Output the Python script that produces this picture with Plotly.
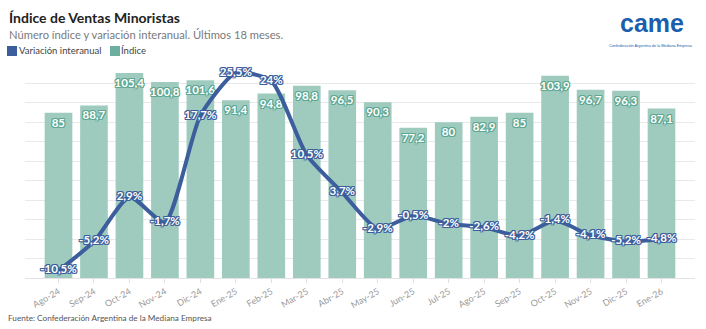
import plotly.graph_objects as go

months = ["Ago-24", "Sep-24", "Oct-24", "Nov-24", "Dic-24", "Ene-25", "Feb-25", "Mar-25", "Abr-25",
          "May-25", "Jun-25", "Jul-25", "Ago-25", "Sep-25", "Oct-25", "Nov-25", "Dic-25", "Ene-26"]
indice = [85, 88.7, 105.4, 100.8, 101.6, 91.4, 94.8, 98.8, 96.5, 90.3, 77.2, 80, 82.9, 85, 103.9, 96.7, 96.3, 87.1]
variacion = [-10.5, -5.2, 2.9, -1.7, 17.7, 25.5, 24, 10.5, 3.7, -2.9, -0.5, -2, -2.6, -4.2, -1.4, -4.1, -5.2, -4.8]

title_text = "Índice de Ventas Minoristas"
subtitle_text = "Número índice y variación interanual. Últimos 18 meses."
legend_names = ["Variación interanual", "Índice"]
source_text = "Fuente: Confederación Argentina de la Mediana Empresa"
logo_sub = "Confederación Argentina de la Mediana Empresa"

W, H = 706, 329
ML, MR, MT, MB = 25, 11, 64, 51
PW, PH = W - ML - MR, H - MT - MB

def px(x):
    return (x - ML) / PW

def py(y):
    return 1 - (y - MT) / PH

BLUE = "#3C5E9C"
BAR = "#9FCBBF"
BAR_DARK = "#5EA893"
FONT = "Lato"

def outline(c, r=1):
    offs = [(-r, -r), (r, -r), (-r, r), (r, r), (0, -r), (0, r), (-r, 0), (r, 0)]
    return ", ".join(f"{a}px {b}px 0 {c}" for a, b in offs)

def fmt(v):
    return f"{v:g}".replace(".", ",")

fig = go.Figure()
fig.add_trace(go.Bar(
    x=months, y=indice, name=legend_names[1], marker=dict(color=BAR, line=dict(width=0)),
    text=[fmt(v) for v in indice], textposition="inside", insidetextanchor="end",
    constraintext="none", cliponaxis=False, textangle=0,
    textfont=dict(family=FONT, size=11.5, color="white", weight="bold", shadow=outline(BAR_DARK)),
    showlegend=False, hoverinfo="skip",
))
fig.add_trace(go.Scatter(
    x=months, y=variacion, yaxis="y2", name=legend_names[0], mode="lines+text",
    line=dict(color=BLUE, width=4, shape="spline", smoothing=0.6),
    text=[fmt(v) + "%" for v in variacion], textposition="middle center", cliponaxis=False,
    textfont=dict(family=FONT, size=11.5, color="white", weight="bold", shadow=outline(BLUE)),
    showlegend=False, hoverinfo="skip",
))

annotations = [
    dict(x=px(7), y=py(17), xref="paper", yref="paper", xanchor="left", yanchor="middle",
         text=f"<b>{title_text}</b>", showarrow=False, font=dict(family=FONT, size=14, color="#222222")),
    dict(x=px(7), y=py(35), xref="paper", yref="paper", xanchor="left", yanchor="middle",
         text=subtitle_text, showarrow=False, font=dict(family=FONT, size=11.2, color="#7a7a7a")),
    dict(x=px(6), y=py(318), xref="paper", yref="paper", xanchor="left", yanchor="middle",
         text=source_text, showarrow=False, font=dict(family=FONT, size=8.2, color="#555555")),
    dict(x=px(17), y=py(51), xref="paper", yref="paper", xanchor="left", yanchor="middle",
         text=legend_names[0], showarrow=False, font=dict(family=FONT, size=9.5, color="#444444")),
    dict(x=px(119), y=py(51), xref="paper", yref="paper", xanchor="left", yanchor="middle",
         text=legend_names[1], showarrow=False, font=dict(family=FONT, size=9.5, color="#444444")),
    dict(x=px(652), y=py(23), xref="paper", yref="paper", xanchor="center", yanchor="middle",
         text="<b>came</b>", showarrow=False, font=dict(family="Liberation Sans", size=25, color="#1B5EAD")),
    dict(x=px(651), y=py(46), xref="paper", yref="paper", xanchor="center", yanchor="middle",
         text=logo_sub, showarrow=False, font=dict(family="Liberation Sans", size=3.8, color="#1B5EAD")),
]
shapes = [
    dict(type="rect", xref="paper", yref="paper", x0=px(7), x1=px(17), y0=py(46), y1=py(56),
         fillcolor=BLUE, line=dict(width=0)),
    dict(type="rect", xref="paper", yref="paper", x0=px(110), x1=px(120), y0=py(46), y1=py(56),
         fillcolor="#6DAF9F", line=dict(width=0)),
]

fig.update_layout(
    width=W, height=H, autosize=False,
    margin=dict(l=ML, r=MR, t=MT, b=MB),
    paper_bgcolor="white", plot_bgcolor="white",
    font=dict(family=FONT),
    bargap=0.22,
    showlegend=False,
    annotations=annotations, shapes=shapes,
    xaxis=dict(type="category", tickangle=-30, tickfont=dict(family=FONT, size=9, color="#9a9a9a"),
               ticks="outside", ticklen=4, tickcolor="#e0e0e0", showgrid=False, showline=False,
               zeroline=False),
    yaxis=dict(range=[0, 110], dtick=10, showticklabels=False, showgrid=True, gridcolor="#e9e9e9",
               gridwidth=1, zeroline=True, zerolinecolor="#e3e3e3", zerolinewidth=1),
    yaxis2=dict(range=[-11.85, 27.1], overlaying="y", showticklabels=False, showgrid=False,
                zeroline=False),
)

fig.write_html("out.html")
